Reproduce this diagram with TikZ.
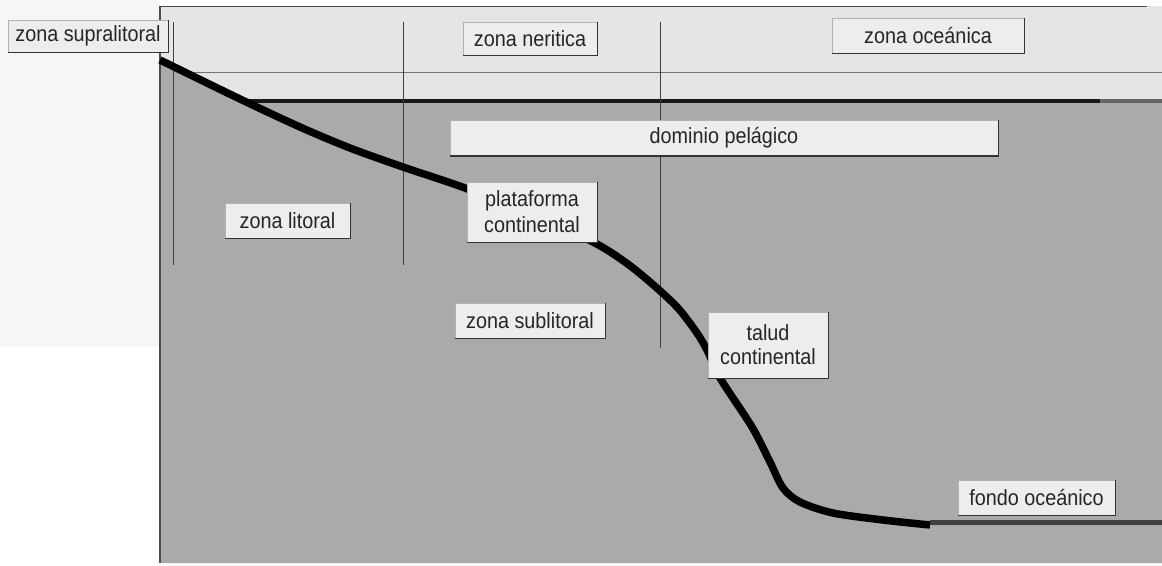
\documentclass[tikz,border=0pt]{standalone}
\usepackage{fontspec}
\newfontfamily\labfont[FakeStretch=0.9]{Liberation Sans}
\definecolor{skyc}{HTML}{E5E5E5}
\definecolor{seac}{HTML}{AAAAAA}
\definecolor{boxc}{HTML}{EDEDED}
\definecolor{paperc}{HTML}{F6F6F6}
\tikzset{
  lbl/.style={fill=boxc, draw=gray!60, line width=0.6pt, inner sep=0pt, align=center,
    font=\labfont\fontsize{22}{26}\selectfont, text=black!85},
  boxedge/.style={draw=black!80, line width=1.6pt},
  zoneline/.style={draw=black!75, line width=1pt},
  seabed/.style={draw=black, line width=7.5pt, line join=round},
}
\begin{document}
\begin{tikzpicture}[x=1pt,y=-1pt]
\useasboundingbox (0,0) rectangle (1162,565);
\fill[white] (0,0) rectangle (1162,565);
\fill[paperc] (0,0) rectangle (160,347);
% sky
\fill[skyc] (160,6) rectangle (1162,101);
\draw[black!70, line width=1pt] (160,6) -- (1147,6);
% sea and ground
\fill[seac] (160,60) -- (240,99) -- (1162,99) -- (1162,563) -- (160,563) -- cycle;
\draw[black!70, line width=1.2pt] (160,6) -- (160,563);
% thin line in sky
\draw[black!55, line width=1pt] (185,72) -- (1162,72);
% sea surface
\draw[black!90, line width=4pt] (240,101) -- (1100,101);
\draw[black!60, line width=4pt] (1100,101) -- (1162,101);
% zone separators
\coordinate (va1) at (173,22); \coordinate (vb1) at (173,265);
\coordinate (va2) at (403,22); \coordinate (vb2) at (403,265);
\coordinate (va3) at (660,22); \coordinate (vb3) at (660,348);
\draw[zoneline] (va1) -- (vb1);
\draw[zoneline] (va2) -- (vb2);
\draw[zoneline] (va3) -- (vb3);
% sea floor profile
\draw[seabed] plot[smooth, tension=0.5] coordinates {(160,60) (240,99) (300,127) (350,148) (403,167) (465,188) (530,214) (593,242) (625,262) (650,282) (677,307) (697,333) (708,352) (720,378) (752,427) (770,462) (783,488) (800,502) (833,513) (883,520) (930,525)};
\draw[black!75, line width=5pt] (930,522) -- (1162,522);
% labels
\node[lbl, minimum width=160pt, minimum height=32pt] (sup) at (88,36) {zona supralitoral};
\node[lbl, minimum width=134pt, minimum height=33pt] (ner) at (530,38.5) {zona neritica};
\node[lbl, minimum width=192pt, minimum height=35pt] (oce) at (928,35.5) {zona oceánica};
\node[lbl, minimum width=548pt, minimum height=35pt] (dom) at (724,138) {dominio pelágico};
\node[lbl, minimum width=125pt, minimum height=35pt] (lit) at (287.5,220.5) {zona litoral};
\node[lbl, minimum width=130pt, minimum height=60pt] (pla) at (532,212) {plataforma\\continental};
\node[lbl, minimum width=150pt, minimum height=35pt] (sub) at (530,320.5) {zona sublitoral};
\node[lbl, minimum width=120pt, minimum height=66pt, font=\labfont\fontsize{22}{24}\selectfont] (tal) at (768,345) {talud\\continental};
\node[lbl, minimum width=157pt, minimum height=35pt] (fon) at (1036.5,497.5) {fondo oceánico};
\foreach \n in {sup,ner,oce,dom,lit,pla,sub,tal,fon}
  \draw[boxedge] (\n.north east) -- (\n.south east) -- (\n.south west);
\end{tikzpicture}
\end{document}
